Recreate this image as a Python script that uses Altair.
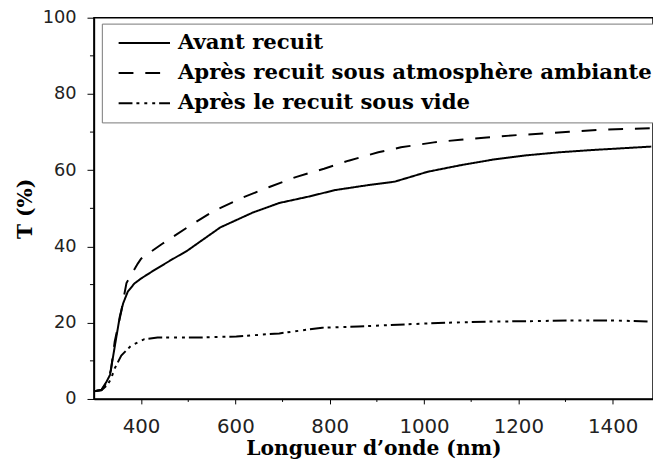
import altair as alt
import pandas as pd

# --- data ---
names = ["Avant recuit",
         "Après recuit sous atmosphère ambiante",
         "Après le recuit sous vide"]

wl_avant = [300, 316, 327, 334, 341, 348, 355, 362, 372, 386, 400, 428, 463, 498,
            568, 637, 693, 756, 812, 882, 938, 1008, 1077, 1147, 1217, 1287, 1357, 1427, 1482]
t_avant = [2.0, 2.4, 4.6, 6.3, 11.4, 16.6, 21.7, 25.1, 28.2, 30.3, 31.6, 33.8, 36.4, 38.9,
           45.0, 48.9, 51.4, 53.1, 54.8, 56.1, 57.0, 59.6, 61.3, 62.8, 63.9, 64.7, 65.3, 65.8, 66.2]

wl_air = [300, 316, 327, 336, 344, 358, 365, 369, 393, 400, 445, 498, 554, 613, 672, 728,
          788, 840, 903, 951, 1021, 1077, 1133, 1196, 1252, 1308, 1371, 1427, 1482]
t_air = [2.0, 2.4, 4.2, 7.5, 15.0, 23.0, 27.8, 30.4, 35.5, 36.8, 40.7, 45.0, 49.3, 52.7,
         55.6, 58.2, 60.4, 62.5, 64.7, 66.0, 67.3, 68.0, 68.6, 69.2, 69.6, 70.1, 70.6, 70.8, 71.0]

wl_vide = [300, 316, 328, 336, 344, 358, 379, 407, 435, 470, 519, 602, 693, 784, 861,
           966, 1049, 1140, 1224, 1315, 1399, 1482]
t_vide = [2.0, 2.3, 3.6, 5.2, 8.0, 11.4, 14.0, 15.7, 16.1, 16.1, 16.1, 16.4, 17.2, 18.7,
          19.0, 19.6, 20.0, 20.3, 20.4, 20.6, 20.6, 20.3]

x_major = [400, 600, 800, 1000, 1200, 1400]
x_minor = [500, 700, 900, 1100, 1300]
y_major = [0, 20, 40, 60, 80, 100]
y_minor = [10, 30, 50, 70, 90]

dashes = [[1, 0], [15, 12], [14, 4, 3, 5, 3, 5, 3, 4]]

rows = []
for name, xs, ys in zip(names, [wl_avant, wl_air, wl_vide], [t_avant, t_air, t_vide]):
    for i, (a, b) in enumerate(zip(xs, ys)):
        rows.append({"serie": name, "wl": a, "T": b, "i": i})
df = pd.DataFrame(rows)

W, H = 566, 386
xscale = alt.Scale(domain=[300, 1485.6], nice=False, zero=False)
yscale = alt.Scale(domain=[0, 100], nice=False)

lines = alt.Chart(df).mark_line(color="black", strokeWidth=2, clip=True).encode(
    x=alt.X("wl:Q", scale=xscale,
            axis=alt.Axis(title="Longueur d\u2019onde (nm)", values=x_major, format="d",
                          tickSize=5, labelPadding=13, labelFontSize=20, titlePadding=2)),
    y=alt.Y("T:Q", scale=yscale,
            axis=alt.Axis(title="T (%)", values=y_major, format="d",
                          tickSize=7, labelPadding=11, labelFontSize=18, titlePadding=7)),
    strokeDash=alt.StrokeDash(
        "serie:N",
        scale=alt.Scale(domain=names, range=dashes),
        sort=names,
        legend=alt.Legend(
            title=None, orient="none", legendX=8, legendY=6,
            padding=5, strokeColor="#777777", fillColor="white",
            labelFont="DejaVu Serif", labelFontWeight="bold", labelFontSize=21.5,
            labelColor="black", labelLimit=700, labelOffset=7,
            symbolType="stroke", symbolSize=2704, symbolStrokeWidth=2,
            symbolStrokeColor="black", symbolOffset=11,
            clipHeight=29, rowPadding=1.5,
        ),
    ),
    detail="serie:N",
    order="i:Q",
)

xminor = alt.Chart(pd.DataFrame({"v": x_minor})).mark_rule(color="black", strokeWidth=1).encode(
    x=alt.X("v:Q", scale=xscale),
    y=alt.value(H), y2=alt.value(H + 3),
)
yminor = alt.Chart(pd.DataFrame({"v": y_minor})).mark_rule(color="black", strokeWidth=1).encode(
    y=alt.Y("v:Q", scale=yscale),
    x=alt.value(0), x2=alt.value(-4),
)

chart = alt.layer(lines, xminor, yminor).properties(
    width=W, height=H,
    autosize=alt.AutoSizeParams(type="none"),
    padding={"left": 87, "top": 7, "right": 0, "bottom": 62},
).configure_view(
    stroke="black", strokeWidth=1.5
).configure_axis(
    grid=False, domainColor="black", domainWidth=1.5,
    tickColor="black", tickWidth=1,
    labelFont="DejaVu Sans", labelColor="#222222",
    titleFont="DejaVu Serif", titleFontWeight="bold", titleFontSize=20.5, titleColor="black",
)

chart.save("out.html", embed_options={"renderer": "svg", "actions": False})
